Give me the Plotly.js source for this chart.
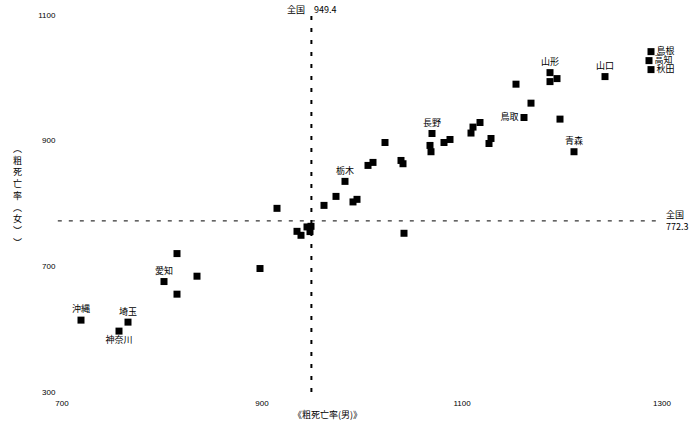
<!DOCTYPE html>
<html>
<head>
<meta charset="utf-8">
<script src="https://cdn.plot.ly/plotly-3.0.1.min.js"></script>
<style>html,body{margin:0;padding:0;background:#fff;}#chart{width:694px;height:426px;}</style>
</head>
<body>
<div id="chart"></div>
<script>
// 粗死亡率（男） x, 粗死亡率（女） y, 都道府県ラベル
const maleRate = [1289,1287,1289,1243,1188,1188,1195,1154,1169,1162,1198,1212,
  1118,1111,1109,1129,1127,1088,1082,1070,1068,1069,1023,1039,1041,1011,1006,
  983,995,991,974,962,915,935,939,945,949,948,1042,815,898,835,802,815,719,766,757];
const femaleRate = [1041.7,1027.4,1013.1,1002,1008.3,994,998.8,989.9,959.7,936.9,934.3,882.4,
  928.9,921.6,912.1,903.5,895.5,901.9,897.1,911.4,892.4,882.4,897.1,868.5,863.3,865.4,860.6,
  835.2,806.6,802.5,811.3,797,792.3,755.7,749.4,762.7,763.7,755.3,752.6,720.3,696.5,684.3,675.8,655.7,614.4,611.2,596.9];
const prefLabels = ['島根','高知','秋田','山口','山形','','','','','鳥取','','青森',
  '','','','','','','','長野','','','','','','','',
  '栃木','','','','','','','','','','','','','','','愛知','','沖縄','埼玉','神奈川'];
const rightSide = ['島根','高知','秋田'];
const labelPos = prefLabels.map(function(l){
  if (rightSide.indexOf(l) >= 0) return 'middle right';
  if (l==='鳥取') return 'middle left';
  if (l==='神奈川') return 'bottom center';
  return 'top center';
});
const nationalMale = 949.4;
const nationalFemale = 772.3;
const xTicks = [700,900,1100,1300];
const yTickVals = [500,700,900,1100];
const yTickText = ['300','700','900','1100'];

const cjk = '"Noto Sans CJK JP", "Noto Sans", sans-serif';
const latin = '"Liberation Sans", Arial, sans-serif';

const trace = {
  type:'scatter', mode:'markers+text',
  x: maleRate, y: femaleRate, text: prefLabels, textposition: labelPos,
  textfont:{family:cjk, size:9, color:'#000'},
  marker:{symbol:'square', size:7, color:'#000'},
  hoverinfo:'none', cliponaxis:false
};

const layout = {
  width:694, height:426,
  margin:{l:62, r:32, t:15, b:34},
  paper_bgcolor:'#fff', plot_bgcolor:'#fff',
  showlegend:false,
  xaxis:{range:[700,1300], tickvals:xTicks, showgrid:false, zeroline:false, showline:false,
    ticks:'outside', ticklen:3, tickcolor:'rgba(0,0,0,0)',
    tickfont:{family:latin, size:8, color:'#000'}},
  yaxis:{range:[500,1100], tickvals:yTickVals, ticktext:yTickText, showgrid:false, zeroline:false, showline:false,
    ticks:'outside', ticklen:4, tickcolor:'rgba(0,0,0,0)',
    tickfont:{family:latin, size:8, color:'#000'}},
  shapes:[
    {type:'line', xref:'x', yref:'paper', x0:nationalMale, x1:nationalMale, y0:0, y1:1,
      line:{color:'#000', width:2, dash:'4px,8px'}},
    {type:'line', xref:'paper', yref:'y', x0:-0.007, x1:0.997, y0:nationalFemale, y1:nationalFemale,
      line:{color:'#000', width:1, dash:'4px,7px'}}
  ],
  annotations:[
    {xref:'x', yref:'paper', x:nationalMale, y:1, yanchor:'bottom', xanchor:'center', showarrow:false,
      yshift:-3, text:'全国　'+nationalMale.toFixed(1), font:{family:cjk, size:9, color:'#000'}},
    {xref:'paper', yref:'y', x:1, y:nationalFemale, xanchor:'left', yanchor:'middle', showarrow:false,
      xshift:2, align:'left', text:'全国<br>'+nationalFemale.toFixed(1), font:{family:cjk, size:9, color:'#000'}},
    {xref:'paper', yref:'paper', x:0.442, y:0, yanchor:'top', xanchor:'center', showarrow:false,
      yshift:-14, text:'《粗死亡率(男)》', font:{family:cjk, size:9, color:'#000'}},
    {xref:'paper', yref:'paper', x:0, y:0.52, xanchor:'center', yanchor:'middle', showarrow:false,
      xshift:-45, text:'︵<br>粗<br>死<br>亡<br>率<br>︵<br>女<br>︶<br>︶', font:{family:cjk, size:9, color:'#000'}}
  ]
};

Plotly.newPlot('chart', [trace], layout, {displayModeBar:false, staticPlot:true});
</script>
</body>
</html>
